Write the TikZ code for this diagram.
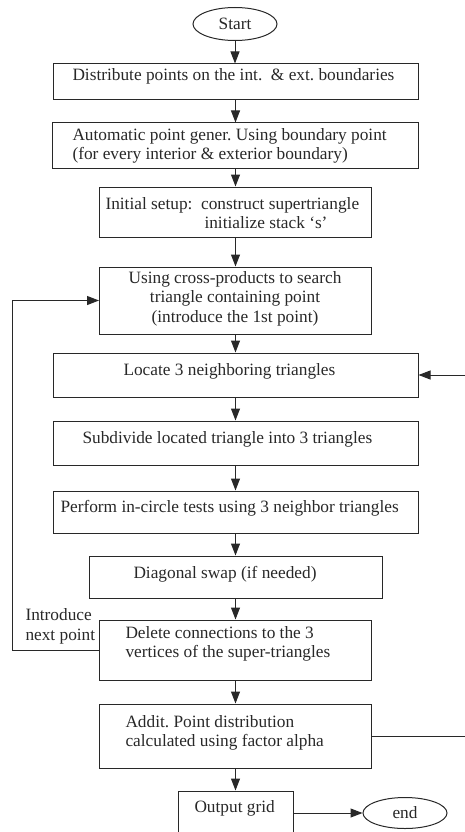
\documentclass[tikz,border=0pt]{standalone}
\usepackage{fontspec}
\setmainfont{Liberation Serif}
\usetikzlibrary{arrows.meta,shapes.geometric}
\definecolor{ink}{RGB}{40,40,40}

\begin{document}
\begin{tikzpicture}[x=1pt, y=-1pt, ink, line width=1pt,
    every node/.style={inner sep=0pt, font=\fontsize{17.3}{19.5}\selectfont},
    box/.style={draw=ink, rectangle},
    term/.style={draw=ink, ellipse, minimum width=84, minimum height=33},
    txt/.style={align=left, anchor=base west},
    arr/.style={-{Triangle[length=12pt,width=9pt]}}]
    \useasboundingbox (0,0) rectangle (464,832);
    \node[term] (start) at (235,24) {Start};
    \node[term, minimum height=31] (endo) at (405,813) {end};
    \foreach \n/\y/\w/\h in {dist/82/365/36, auto/145.5/366/45, setup/212/272/50, search/300.5/272/67,
        locate/375/365/44, subdiv/443/365/44, incirc/512/365/42, swap/577/293/42,
        del/650/272/60, addit/736/272/64, outp/816/115/50}
      \node[box, minimum width=\w, minimum height=\h] (\n) at (235.5,\y) {};
    % texts (base = last line)
    \node[txt] (distT) at (72,81) {Distribute points on the int.\ \ \& ext.\ boundaries};
    \node[txt] (autoT) at (72,159.5) {Automatic point gener.\ Using boundary point\\(for every interior \& exterior boundary)};
    \node[txt] (setupT) at (105,228.5) {Initial setup:\ \ construct supertriangle\\\hspace*{99pt}initialize stack `s'};
    \node[align=center, anchor=base] (searchT) at (235,322) {Using cross-products to search\\triangle containing point\\(introduce the 1st point)};
    \node[txt] (locateT) at (123,375) {Locate 3 neighboring triangles};
    \node[txt] (subdivT) at (82,443) {Subdivide located triangle into 3 triangles};
    \node[txt] (incircT) at (60,512) {Perform in-circle tests using 3 neighbor triangles};
    \node[txt] (swapT) at (133,578) {Diagonal swap (if needed)};
    \node[txt] (introT) at (25,640) {Introduce\\next point};
    \node[txt] (delT) at (125,657.5) {Delete connections to the 3\\vertices of the super-triangles};
    \node[txt] (additT) at (125,746.5) {Addit.\ Point distribution\\calculated using factor alpha};
    \node[txt] (outpT) at (194,812) {Output grid};
    % arrows
    \foreach \a/\b in {start/dist, dist/auto, auto/setup, setup/search, search/locate, locate/subdiv,
        subdiv/incirc, incirc/swap, swap/del, del/addit, addit/outp}
      \draw[arr] (\a.south) -- (\a.south |- \b.north);
    \draw[arr] (del.west) -- ++(-87,0) |- (search.west);
    \draw[arr] (addit.east) -- ++(110,0) |- (locate.east);
    \draw[arr] (outp.east |- endo) -- (endo);
\end{tikzpicture}
\end{document}
